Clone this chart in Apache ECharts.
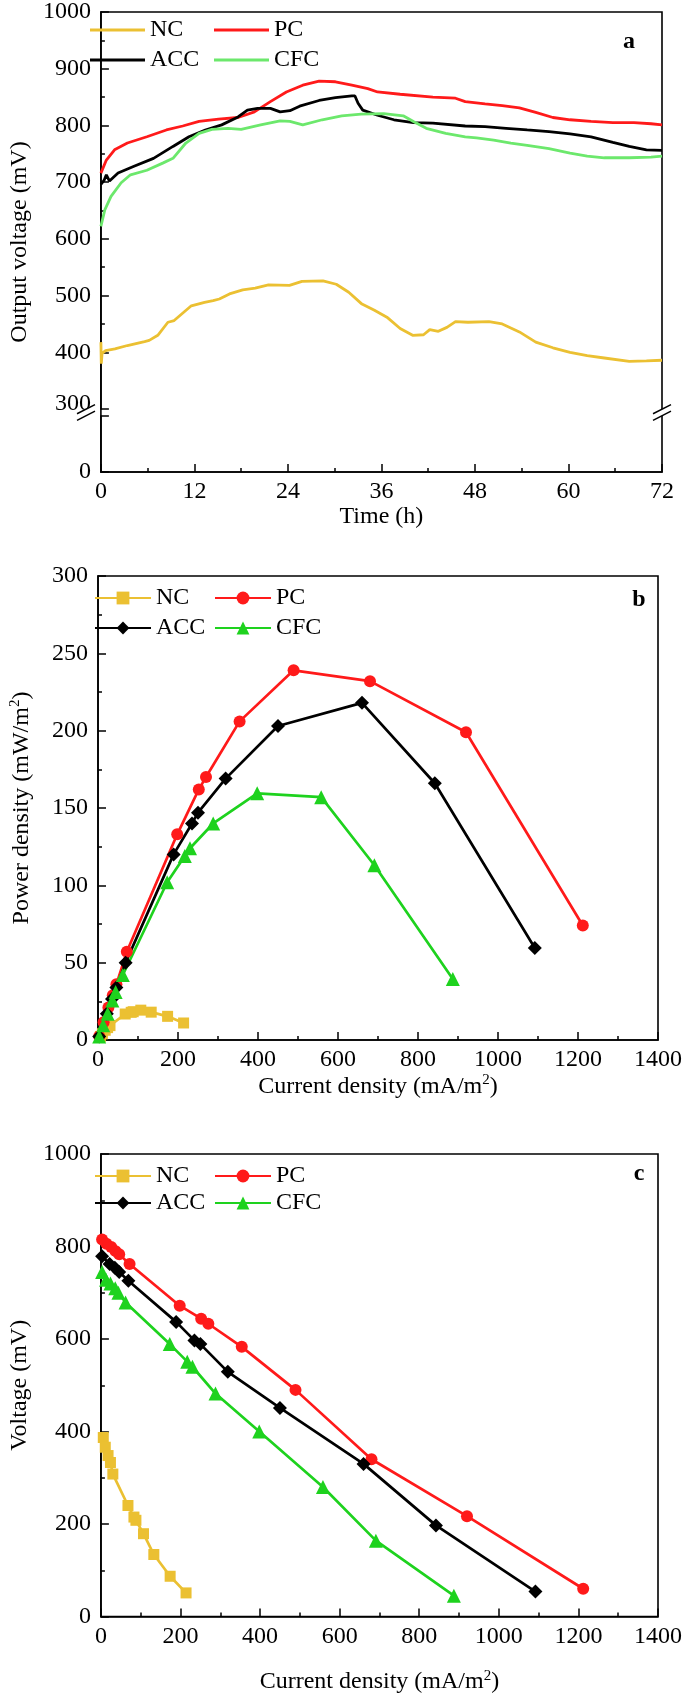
<!DOCTYPE html>
<html><head><meta charset="utf-8">
<script src="https://cdn.jsdelivr.net/npm/echarts@6/dist/echarts.min.js"></script>
<style>html,body{margin:0;padding:0;background:#fff}#c{width:685px;height:1695px}</style>
</head><body><div id="c"></div>
<script>
// ---------- Panel a: output voltage vs time ----------
const timeNC = [0, 0.05, 0.15, 0.6, 1.8, 3.4, 5.6, 6.2, 7.3, 8.6, 9.4, 11.6, 13.3, 14.4, 15.2, 16.5, 18.2, 19.8, 21.5, 24.2, 25.8, 28.5, 30.2, 31.8, 33.5, 35.1, 36.7, 38.4, 40, 41.4, 42.2, 43.3, 44.4, 45.5, 47.1, 49.8, 51.5, 53.7, 55.8, 58, 60.2, 62.4, 64.6, 67.8, 70, 72];
const voltNC = [418, 380, 398, 403, 406, 412, 419, 421, 430, 453, 456, 482, 488, 491, 494, 503, 510, 513, 519, 518, 525, 526, 520, 506, 485, 474, 462, 442, 430, 431, 440, 437, 444, 454, 453, 454, 450, 436, 418, 408, 400, 394, 390, 384, 385, 386];
const timePC = [0, 0.7, 1.75, 3.4, 5.9, 8.4, 10.5, 12.6, 15.1, 17.6, 19.7, 21.75, 23.8, 25.9, 28, 30.1, 32.2, 34.25, 35.5, 38.4, 42.6, 45.5, 46.75, 49.3, 51.5, 53.7, 55.8, 58, 60.2, 62.9, 65.7, 68.4, 70.6, 72];
const voltPC = [716, 739, 757, 769, 780, 792, 799, 807, 811, 814, 824, 842, 859, 871, 878, 877, 871, 865, 859, 855, 850, 848, 842, 838, 835, 831, 823, 814, 810, 807, 805, 805, 803, 801];
const timeACC = [0, 0.4, 0.7, 1.1, 2.2, 4.25, 6.75, 9.25, 11.3, 13.4, 15.5, 17.6, 18.8, 20.1, 21.75, 23, 24.25, 25.5, 28, 30.1, 32.2, 32.6, 33, 33.6, 35.5, 37.6, 40.1, 42.6, 46.75, 49.3, 52, 54.7, 57.5, 60.2, 62.9, 65.7, 67.8, 70, 72];
const voltACC = [696, 703, 713, 702, 716, 728, 742, 763, 780, 792, 801, 815, 827, 830, 830, 824, 826, 834, 844, 849, 852, 852, 839, 827, 818, 810, 805, 804, 799, 798, 795, 792, 789, 785, 780, 770, 763, 757, 756];
const timeCFC = [0, 0.5, 1.3, 2.6, 3.8, 5.9, 8, 9.25, 10.9, 12.6, 14.25, 16.3, 18, 20.5, 23, 24.25, 25.9, 28.4, 30.9, 33.4, 36.3, 38.8, 40.1, 41.75, 44.25, 46.75, 48.2, 50.4, 52.6, 54.7, 57.5, 60.2, 62.4, 64.6, 67.8, 70.6, 72];
const voltCFC = [622, 651, 675, 699, 713, 721, 734, 742, 769, 786, 793, 795, 793, 801, 808, 807, 801, 810, 817, 820, 821, 817, 807, 795, 786, 780, 778, 774, 769, 765, 759, 751, 746, 743, 743, 744, 746];

// ---------- Panels b & c: polarization data ----------
const currentNC = [6, 11, 18, 24, 30, 68, 83, 88, 107, 133, 174, 214];
const powerNC = [2.3, 4, 6.3, 8, 9.3, 16.8, 17.9, 18.3, 19.3, 18, 15.3, 11];
const voltageNC = [387, 366, 348, 333, 308, 240, 215, 208, 179, 134, 87, 51];
const currentPC = [3, 14, 26, 37, 46, 72, 198, 252, 270, 354, 489, 680, 920, 1212];
const powerPC = [2.5, 11.5, 21, 29, 36, 57, 133, 162, 170, 206, 239, 232, 199, 74];
const voltagePC = [815, 806, 799, 790, 783, 762, 672, 644, 633, 583, 490, 340, 217, 60];
const currentACC = [3, 22, 35, 46, 69, 189, 235, 250, 319, 450, 660, 842, 1092];
const powerACC = [2.3, 17, 26.5, 34, 50, 120, 140, 147, 169, 203, 218, 166, 59.5];
const voltageACC = [779, 762, 754, 745, 726, 637, 597, 589, 529, 451, 330, 197, 54];
const currentCFC = [3, 13, 24, 36, 44, 62, 173, 217, 230, 288, 398, 558, 691, 887];
const powerCFC = [2.2, 9.5, 17, 25.5, 31, 42, 102, 119, 124, 140, 159.5, 157, 113, 39.5];
const voltageCFC = [745, 728, 720, 710, 700, 679, 589, 551, 540, 482, 400, 280, 164, 45];

const seriesNames = ['NC', 'PC', 'ACC', 'CFC'];
const panelLetters = ['a', 'b', 'c'];

const FONT = '"Liberation Serif", "Times New Roman", serif';
const COL = { NC: '#EBC032', PC: '#FF1A1A', ACC: '#000000', CFC_A: '#6CE86C', CFC: '#1ED21E' };
const zip = (a, b) => a.map((v, i) => [v, b[i]]);

const chart = echarts.init(document.getElementById('c'), null, { renderer: 'canvas' });

const nameStyle = {
  color: '#000', fontFamily: FONT, fontSize: 24,
  rich: {
    n: { color: '#000', fontFamily: FONT, fontSize: 24 },
    sup: { color: '#000', fontFamily: FONT, fontSize: 15, padding: [0, 0, 12, 0] }
  }
};
function axis(extra) {
  return Object.assign({
    type: 'value',
    axisLine: { show: true, onZero: false, lineStyle: { color: '#000', width: 1.6 } },
    axisTick: { show: true, inside: true, length: 8, lineStyle: { color: '#000', width: 1.5 } },
    minorTick: { show: true, splitNumber: 2, length: 4, lineStyle: { color: '#000', width: 1.5 } },
    splitLine: { show: false },
    minorSplitLine: { show: false },
    nameLocation: 'middle',
    nameTextStyle: nameStyle
  }, extra);
}
const plain = v => String(v);
const labelStyle = (m, fmt) => ({ color: '#000', fontFamily: FONT, fontSize: 24, margin: m, showMaxLabel: true, showMinLabel: true, formatter: fmt || plain });

const grids = [0, 1, 2].map(i => ({
  left: 86, width: 576, height: 464, top: [8, 576, 1154][i],
  show: true, borderColor: '#000', borderWidth: 1.6, backgroundColor: 'transparent'
}));

const xAxes = [
  axis({ gridIndex: 0, min: 0, max: 72, interval: 12, name: '{n|Time (h)}', nameGap: 31, axisLabel: labelStyle(8) }),
  axis({ gridIndex: 1, min: 0, max: 1400, interval: 200, name: '{n|Current density (mA/m}{sup|2}{n|)}', nameGap: 28, axisLabel: labelStyle(8) }),
  axis({ gridIndex: 2, min: 0, max: 1400, interval: 200, name: '{n|Current density (mA/m}{sup|2}{n|)}', nameGap: 52, axisLabel: labelStyle(8) })
];
const yAxes = [
  axis({ gridIndex: 0, min: 0, max: 1000, interval: 100, name: '{n|Output voltage (mV)}', nameGap: 68,
    breaks: [{ start: 99, end: 300, gap: 12 }],
    breakArea: { show: false, itemStyle: { opacity: 0 } },
    axisLabel: labelStyle(10, v => (v % 100 === 0 && v !== 100 && v !== 200) ? String(v) : '') }),
  axis({ gridIndex: 1, min: 0, max: 300, interval: 50, name: '{n|Power density (mW/m}{sup|2}{n|)}', nameGap: 63, axisLabel: labelStyle(10) }),
  axis({ gridIndex: 2, min: 0, max: 1000, interval: 200, name: '{n|Voltage (mV)}', nameGap: 68, axisLabel: labelStyle(10) })
];

const symbols = { NC: 'rect', PC: 'circle', ACC: 'diamond', CFC: 'triangle' };
const symSize = { NC: 11, PC: 12, ACC: 14, CFC: 14 };
const curData = { NC: currentNC, PC: currentPC, ACC: currentACC, CFC: currentCFC };
const powData = { NC: powerNC, PC: powerPC, ACC: powerACC, CFC: powerCFC };
const volData = { NC: voltageNC, PC: voltagePC, ACC: voltageACC, CFC: voltageCFC };
const timeData = { NC: timeNC, PC: timePC, ACC: timeACC, CFC: timeCFC };
const voltAData = { NC: voltNC, PC: voltPC, ACC: voltACC, CFC: voltCFC };

const series = [];
seriesNames.forEach(n => {
  const c = n === 'CFC' ? COL.CFC_A : COL[n];
  series.push({ name: n, type: 'line', xAxisIndex: 0, yAxisIndex: 0, symbol: 'none', data: zip(timeData[n], voltAData[n]),
    lineStyle: { color: c, width: 2.8 }, itemStyle: { color: c }, z: 3 });
});
[1, 2].forEach(p => {
  const suffix = p === 1 ? ' ' : '  ';
  seriesNames.forEach(n => {
    const c = COL[n];
    series.push({ name: n + suffix, type: 'line', xAxisIndex: p, yAxisIndex: p,
      symbol: symbols[n], symbolSize: symSize[n], showSymbol: true,
      data: zip(curData[n], p === 1 ? powData[n] : volData[n]),
      lineStyle: { color: c, width: 2.7 }, itemStyle: { color: c }, z: 3 });
  });
});

function legend(names, left, top, gap, lineOnly) {
  return { data: lineOnly ? names.map(n => ({ name: n, icon: 'rect' })) : names,
    left, top, orient: 'vertical', padding: 0, itemWidth: lineOnly ? 55 : 56, itemHeight: lineOnly ? 3 : 16, itemGap: gap,
    selectedMode: false, formatter: n => n.trim(),
    textStyle: { fontFamily: FONT, fontSize: 24, color: '#000', lineHeight: 24 } };
}
const legends = [
  legend(['NC', 'ACC'], 90, 18, 6, true), legend(['PC', 'CFC'], 214, 18, 6, true),
  legend(['NC ', 'ACC '], 94, 586, 6), legend(['PC ', 'CFC '], 214, 586, 6),
  legend(['NC  ', 'ACC  '], 94, 1164, 3), legend(['PC  ', 'CFC  '], 214, 1164, 3)
];

chart.setOption({
  animation: false,
  backgroundColor: '#fff',
  grid: grids, xAxis: xAxes, yAxis: yAxes, legend: legends, series: series
});

// panel letters and axis-break marks
const letterPos = [[629, 42], [639, 600], [639, 1174]];
const g = panelLetters.map((t, i) => ({ type: 'text', x: letterPos[i][0], y: letterPos[i][1], z: 200,
  style: { text: t, font: 'bold 24px "Liberation Serif"', fill: '#000', align: 'center', verticalAlign: 'middle' } }));
const yA = chart.convertToPixel({ yAxisIndex: 0 }, 300);
const yB = chart.convertToPixel({ yAxisIndex: 0 }, 99);
const yb = (yA + yB) / 2;
[86, 662].forEach(x => {
  const hw = 9, hh = 4.6, d = 3.3;
  g.push({ type: 'polygon', z: 200, shape: { points: [[x - hw, yb - d + hh], [x + hw, yb - d - hh], [x + hw, yb + d - hh], [x - hw, yb + d + hh]] },
    style: { fill: '#fff', stroke: null } });
  [-d, d].forEach(o => g.push({ type: 'line', z: 201, shape: { x1: x - hw, y1: yb + o + hh, x2: x + hw, y2: yb + o - hh },
    style: { stroke: '#000', lineWidth: 1.5 } }));
});
chart.setOption({ graphic: g });
</script>
</body></html>
